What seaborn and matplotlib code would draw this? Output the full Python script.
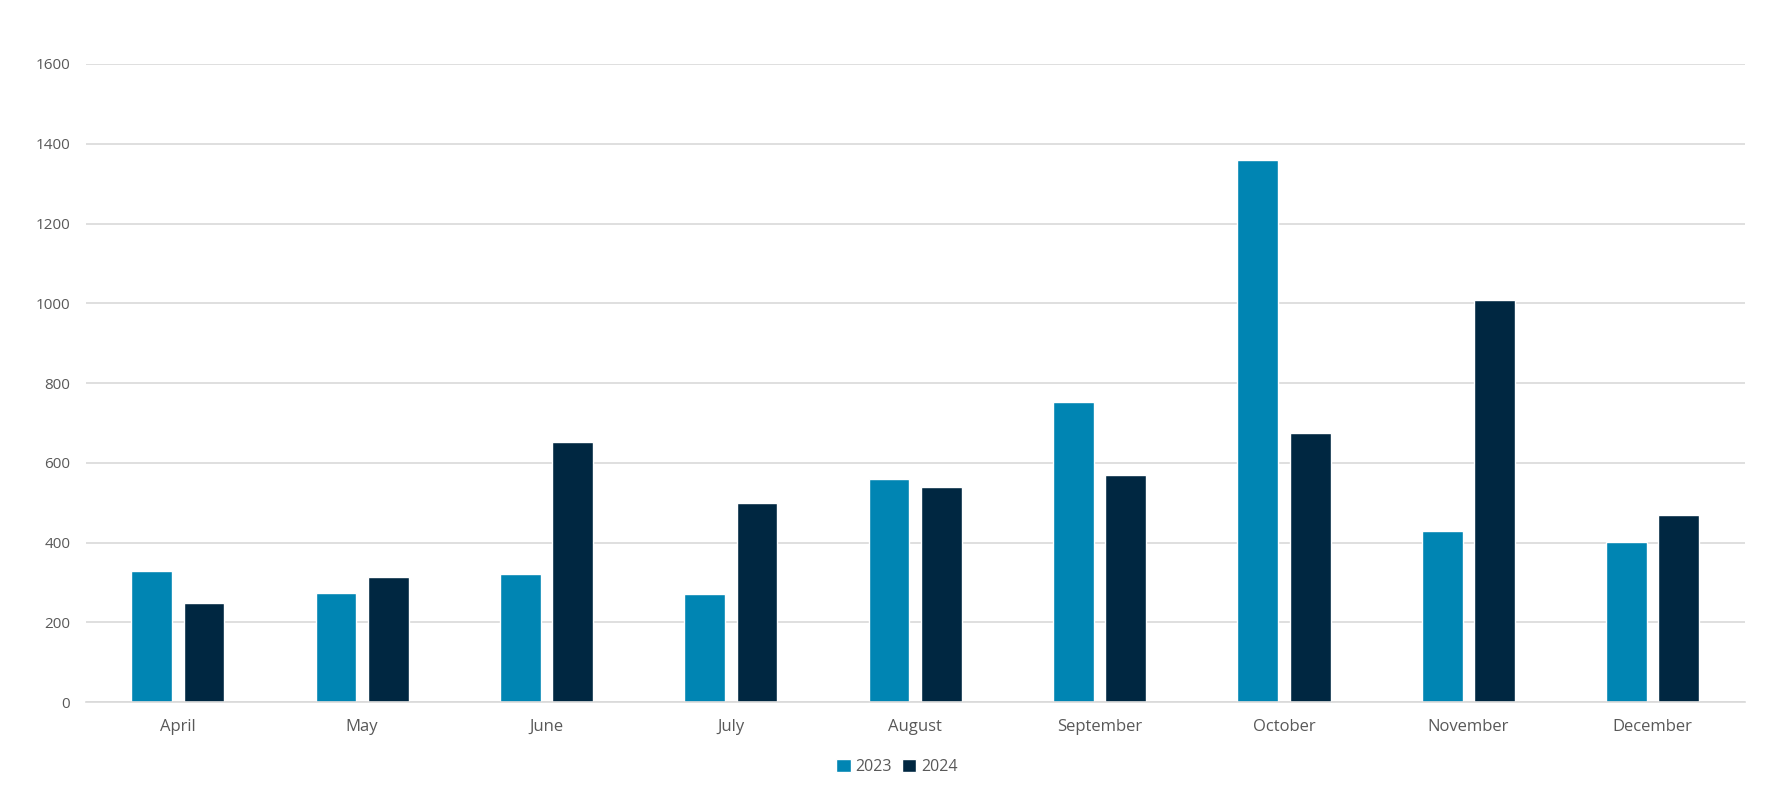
import matplotlib
matplotlib.use("Agg")
import matplotlib.pyplot as plt
import seaborn as sns
import pandas as pd

months = ["April", "May", "June", "July", "August", "September", "October", "November", "December"]
values_2023 = [330, 275, 321, 272, 559, 753, 1359, 429, 403]
values_2024 = [248, 315, 652, 500, 540, 570, 674, 1008, 470]
series = ["2023", "2024"]
colors = ["#0085B3", "#002741"]
yticks = [0, 200, 400, 600, 800, 1000, 1200, 1400, 1600]

df = pd.DataFrame({
    "Month": months * 2,
    "Year": [series[0]] * len(months) + [series[1]] * len(months),
    "Value": values_2023 + values_2024,
})

sns.set_theme(style="white")
plt.rcParams["font.family"] = ["Open Sans", "DejaVu Sans"]

fig = plt.figure(figsize=(17.84, 8.10), dpi=100)
ax = fig.add_axes([0.048, 0.133, 0.930, 0.788])

sns.barplot(data=df, x="Month", y="Value", hue="Year", order=months, hue_order=series,
            palette=colors, width=0.568, gap=0.218, ax=ax, legend=True, saturation=1)

ax.set_ylim(0, 1600)
ax.set_yticks(yticks)
ax.set_yticklabels([str(t) for t in yticks])
ax.yaxis.grid(True, color="#D9D9D9", linewidth=1.2)
ax.set_axisbelow(True)
for s in ["top", "right", "left"]:
    ax.spines[s].set_visible(False)
ax.spines["bottom"].set_color("#D9D9D9")
ax.spines["bottom"].set_linewidth(1.2)
ax.set_xlim(-0.5, len(months) - 0.5)
ax.set_xlabel("")
ax.set_ylabel("")
ax.tick_params(axis="x", length=0, labelsize=12, colors="#595959", pad=12)
ax.tick_params(axis="y", length=0, labelsize=11, colors="#595959", pad=11)

handles, labels = ax.get_legend_handles_labels()
ax.legend(handles, labels, loc="upper center", bbox_to_anchor=(0.489, -0.066), ncol=2,
          frameon=False, fontsize=11.5, handlelength=0.9, handleheight=0.9,
          columnspacing=0.6, handletextpad=0.3, labelcolor="#595959")

fig.savefig("out.png", dpi=100, facecolor="white")
